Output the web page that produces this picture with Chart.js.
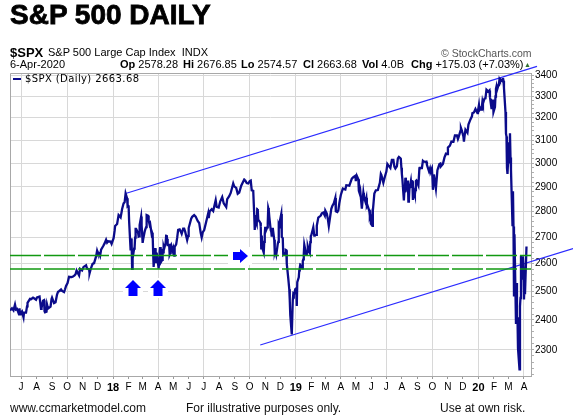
<!DOCTYPE html>
<html>
<head>
<meta charset="utf-8">
<script src="https://cdn.jsdelivr.net/npm/chart.js@4.4.1/dist/chart.umd.min.js"></script>
<style>
  body { margin: 0; background: #fff; }
  #wrap { position: relative; width: 573px; height: 418px; font-family: "Liberation Sans", Arial, sans-serif; color: #000; overflow: hidden; }
  #c { position: absolute; left: 0; top: 0; }
  .t { position: absolute; white-space: nowrap; line-height: 1; }
  .b { font-weight: bold; }
</style>
</head>
<body>
<div id="wrap">
  <canvas id="c" width="573" height="418"></canvas>
  <div class="t b" style="left:10px;top:1px;font-size:28px;-webkit-text-stroke:0.8px #000;">S&amp;P 500 DAILY</div>
  <div class="t b" style="left:10px;top:46px;font-size:13px;">$SPX</div>
  <div class="t" style="left:48px;top:47px;font-size:11px;">S&amp;P 500 Large Cap Index&nbsp; INDX</div>
  <div class="t" style="left:441px;top:48px;font-size:10.5px;color:#555;">&copy; StockCharts.com</div>
  <div class="t" style="left:10px;top:59px;font-size:11px;">6-Apr-2020</div>
  <div class="t" style="left:120px;top:59px;font-size:11px;"><span class="b">Op</span> 2578.28</div>
  <div class="t" style="left:183px;top:59px;font-size:11px;"><span class="b">Hi</span> 2676.85</div>
  <div class="t" style="left:241px;top:59px;font-size:11px;"><span class="b">Lo</span> 2574.57</div>
  <div class="t" style="left:303px;top:59px;font-size:11px;"><span class="b">Cl</span> 2663.68</div>
  <div class="t" style="left:362px;top:59px;font-size:11px;"><span class="b">Vol</span> 4.0B</div>
  <div class="t" style="left:411px;top:59px;font-size:11px;"><span class="b">Chg</span> +175.03 (+7.03%)</div>
  <div class="t" style="left:524px;top:61px;font-size:7px;color:#2f6f2f;">&#9650;</div>
  <div class="t" style="left:13px;top:78px;width:8px;height:2px;background:#0b0b8a;"></div>
  <div class="t" style="left:25px;top:74px;font-size:10px;letter-spacing:0.4px;font-family:'DejaVu Sans',Verdana,sans-serif;">$SPX (Daily) 2663.68</div>
  <div class="t" style="left:10px;top:402px;font-size:12px;color:#111;">www.ccmarketmodel.com</div>
  <div class="t" style="left:186px;top:402px;font-size:12px;color:#111;">For illustrative purposes only.</div>
  <div class="t" style="left:440px;top:402px;font-size:12px;color:#111;">Use at own risk.</div>
</div>
<script>
// S&P 500 closes (not every trading day)
const spxDates = [
  '2017-06-09','2017-06-13','2017-06-16','2017-06-19','2017-06-21','2017-06-23','2017-06-27','2017-06-28','2017-06-29','2017-06-30',
  '2017-07-03','2017-07-06','2017-07-07','2017-07-11','2017-07-13','2017-07-14','2017-07-19','2017-07-21','2017-07-25','2017-07-27','2017-07-31',
  '2017-08-02','2017-08-07','2017-08-10','2017-08-11','2017-08-14','2017-08-16','2017-08-17','2017-08-18','2017-08-21','2017-08-22','2017-08-24','2017-08-29','2017-08-31',
  '2017-09-01','2017-09-05','2017-09-08','2017-09-11','2017-09-13','2017-09-15','2017-09-19','2017-09-21','2017-09-25','2017-09-27','2017-09-29',
  '2017-10-02','2017-10-05','2017-10-10','2017-10-13','2017-10-16','2017-10-18','2017-10-20','2017-10-23','2017-10-25','2017-10-27','2017-10-31',
  '2017-11-03','2017-11-08','2017-11-10','2017-11-14','2017-11-15','2017-11-17','2017-11-21','2017-11-24','2017-11-28','2017-11-30',
  '2017-12-01','2017-12-04','2017-12-06','2017-12-08','2017-12-12','2017-12-15','2017-12-18','2017-12-20','2017-12-22','2017-12-27','2017-12-29',
  '2018-01-02','2018-01-04','2018-01-05','2018-01-09','2018-01-12','2018-01-16','2018-01-18','2018-01-19','2018-01-22','2018-01-24','2018-01-26','2018-01-29','2018-01-30','2018-01-31',
  '2018-02-01','2018-02-02','2018-02-05','2018-02-06','2018-02-07','2018-02-08','2018-02-09','2018-02-12','2018-02-13','2018-02-14','2018-02-15','2018-02-16','2018-02-20','2018-02-21','2018-02-22','2018-02-23','2018-02-26','2018-02-27','2018-02-28',
  '2018-03-01','2018-03-02','2018-03-05','2018-03-06','2018-03-08','2018-03-09','2018-03-12','2018-03-13','2018-03-15','2018-03-16','2018-03-19','2018-03-20','2018-03-21','2018-03-22','2018-03-23','2018-03-26','2018-03-27','2018-03-28','2018-03-29',
  '2018-04-02','2018-04-03','2018-04-04','2018-04-05','2018-04-06','2018-04-09','2018-04-10','2018-04-11','2018-04-12','2018-04-13','2018-04-16','2018-04-17','2018-04-18','2018-04-19','2018-04-20','2018-04-23','2018-04-24','2018-04-25','2018-04-26','2018-04-27','2018-04-30',
  '2018-05-01','2018-05-02','2018-05-03','2018-05-04','2018-05-07','2018-05-09','2018-05-11','2018-05-14','2018-05-16','2018-05-18','2018-05-21','2018-05-23','2018-05-25','2018-05-29','2018-05-31',
  '2018-06-01','2018-06-06','2018-06-08','2018-06-12','2018-06-15','2018-06-19','2018-06-22','2018-06-25','2018-06-27','2018-06-29',
  '2018-07-02','2018-07-06','2018-07-10','2018-07-11','2018-07-13','2018-07-17','2018-07-20','2018-07-25','2018-07-27','2018-07-31',
  '2018-08-03','2018-08-07','2018-08-10','2018-08-15','2018-08-17','2018-08-21','2018-08-24','2018-08-29','2018-08-31',
  '2018-09-04','2018-09-07','2018-09-10','2018-09-14','2018-09-20','2018-09-21','2018-09-25','2018-09-28',
  '2018-10-01','2018-10-03','2018-10-05','2018-10-08','2018-10-10','2018-10-11','2018-10-12','2018-10-15','2018-10-16','2018-10-17','2018-10-18','2018-10-22','2018-10-23','2018-10-24','2018-10-25','2018-10-26','2018-10-29','2018-10-30','2018-10-31',
  '2018-11-01','2018-11-02','2018-11-05','2018-11-06','2018-11-07','2018-11-08','2018-11-09','2018-11-12','2018-11-13','2018-11-14','2018-11-15','2018-11-16','2018-11-19','2018-11-20','2018-11-21','2018-11-23','2018-11-26','2018-11-27','2018-11-28','2018-11-29','2018-11-30',
  '2018-12-03','2018-12-04','2018-12-06','2018-12-07','2018-12-10','2018-12-11','2018-12-12','2018-12-13','2018-12-14','2018-12-17','2018-12-18','2018-12-19','2018-12-20','2018-12-21','2018-12-24','2018-12-26','2018-12-27','2018-12-28','2018-12-31',
  '2019-01-02','2019-01-03','2019-01-04','2019-01-07','2019-01-08','2019-01-09','2019-01-10','2019-01-11','2019-01-14','2019-01-15','2019-01-16','2019-01-17','2019-01-18','2019-01-22','2019-01-23','2019-01-24','2019-01-25','2019-01-28','2019-01-29','2019-01-30','2019-01-31',
  '2019-02-01','2019-02-05','2019-02-07','2019-02-08','2019-02-11','2019-02-12','2019-02-15','2019-02-20','2019-02-22','2019-02-25','2019-02-28',
  '2019-03-01','2019-03-04','2019-03-06','2019-03-08','2019-03-11','2019-03-13','2019-03-15','2019-03-18','2019-03-21','2019-03-22','2019-03-25','2019-03-27','2019-03-29',
  '2019-04-01','2019-04-05','2019-04-10','2019-04-12','2019-04-18','2019-04-23','2019-04-26','2019-04-30',
  '2019-05-01','2019-05-03','2019-05-06','2019-05-07','2019-05-09','2019-05-10','2019-05-13','2019-05-14','2019-05-16','2019-05-17','2019-05-20','2019-05-22','2019-05-23','2019-05-24','2019-05-28','2019-05-29','2019-05-30','2019-05-31',
  '2019-06-03','2019-06-04','2019-06-05','2019-06-07','2019-06-10','2019-06-14','2019-06-18','2019-06-20','2019-06-21','2019-06-25','2019-06-28',
  '2019-07-01','2019-07-03','2019-07-05','2019-07-09','2019-07-12','2019-07-15','2019-07-17','2019-07-19','2019-07-22','2019-07-24','2019-07-26','2019-07-29','2019-07-30','2019-07-31',
  '2019-08-01','2019-08-02','2019-08-05','2019-08-06','2019-08-07','2019-08-08','2019-08-09','2019-08-12','2019-08-13','2019-08-14','2019-08-15','2019-08-16','2019-08-19','2019-08-20','2019-08-21','2019-08-22','2019-08-23','2019-08-26','2019-08-27','2019-08-28','2019-08-29','2019-08-30',
  '2019-09-03','2019-09-05','2019-09-06','2019-09-10','2019-09-12','2019-09-13','2019-09-17','2019-09-19','2019-09-20','2019-09-24','2019-09-26','2019-09-27','2019-09-30',
  '2019-10-01','2019-10-02','2019-10-03','2019-10-04','2019-10-08','2019-10-09','2019-10-11','2019-10-15','2019-10-17','2019-10-18','2019-10-22','2019-10-25','2019-10-28','2019-10-31',
  '2019-11-01','2019-11-05','2019-11-08','2019-11-12','2019-11-15','2019-11-19','2019-11-21','2019-11-22','2019-11-26','2019-11-27','2019-11-29',
  '2019-12-02','2019-12-03','2019-12-04','2019-12-06','2019-12-10','2019-12-12','2019-12-13','2019-12-16','2019-12-19','2019-12-20','2019-12-23','2019-12-26','2019-12-27','2019-12-30','2019-12-31',
  '2020-01-02','2020-01-03','2020-01-06','2020-01-07','2020-01-08','2020-01-09','2020-01-10','2020-01-13','2020-01-15','2020-01-17','2020-01-21','2020-01-22','2020-01-23','2020-01-24','2020-01-27','2020-01-28','2020-01-29','2020-01-30','2020-01-31',
  '2020-02-03','2020-02-04','2020-02-05','2020-02-06','2020-02-07','2020-02-10','2020-02-11','2020-02-12','2020-02-13','2020-02-14','2020-02-18','2020-02-19','2020-02-20','2020-02-21','2020-02-24','2020-02-25','2020-02-26','2020-02-27','2020-02-28',
  '2020-03-02','2020-03-03','2020-03-04','2020-03-05','2020-03-06','2020-03-09','2020-03-10','2020-03-11','2020-03-12','2020-03-13','2020-03-16','2020-03-17','2020-03-18','2020-03-19','2020-03-20','2020-03-23','2020-03-24','2020-03-25','2020-03-26','2020-03-27','2020-03-30','2020-03-31',
  '2020-04-01','2020-04-02','2020-04-03','2020-04-06'
];
const spxClose = [
  2432,2440,2433,2453,2436,2438,2419,2440,2419,2423,
  2429,2409,2425,2425,2447,2459,2473,2472,2477,2475,2470,
  2478,2481,2438,2441,2466,2468,2430,2426,2428,2453,2439,2446,2472,
  2477,2458,2461,2488,2498,2500,2506,2501,2497,2507,2519,
  2529,2552,2551,2553,2557,2561,2575,2564,2557,2581,2575,
  2588,2594,2582,2579,2565,2579,2599,2602,2627,2648,
  2642,2639,2629,2652,2665,2676,2690,2679,2684,2683,2674,
  2696,2724,2743,2751,2786,2777,2798,2810,2833,2837,2873,2853,2822,2824,
  2822,2762,2649,2695,2681,2581,2620,2656,2662,2698,2732,2732,2716,2702,2703,2747,2780,2745,2714,
  2678,2691,2721,2728,2739,2786,2783,2765,2748,2752,2712,2717,2711,2643,2588,2658,2612,2606,2641,
  2582,2614,2645,2662,2604,2614,2656,2642,2663,2656,2678,2706,2708,2693,2670,2670,2634,2639,2666,2670,2648,
  2655,2636,2630,2663,2672,2697,2728,2730,2722,2713,2733,2733,2721,2689,2705,
  2735,2772,2779,2786,2780,2763,2755,2717,2699,2718,
  2727,2760,2793,2774,2801,2809,2802,2846,2819,2816,
  2840,2858,2833,2818,2850,2862,2875,2914,2902,
  2896,2872,2877,2905,2931,2930,2916,2914,
  2924,2926,2886,2884,2786,2728,2767,2750,2810,2809,2768,2756,2741,2657,2706,2659,2641,2682,2712,
  2740,2723,2738,2755,2814,2806,2781,2726,2722,2702,2730,2736,2690,2642,2649,2633,2674,2682,2744,2738,2760,
  2790,2701,2696,2633,2638,2636,2651,2650,2600,2546,2546,2507,2467,2417,2351,2468,2489,2486,2507,
  2510,2448,2532,2550,2575,2585,2597,2596,2583,2610,2616,2636,2671,2633,2639,2643,2665,2644,2640,2681,2704,
  2707,2738,2706,2708,2709,2744,2776,2784,2793,2796,2784,
  2804,2792,2771,2743,2784,2811,2822,2833,2855,2801,2798,2805,2834,
  2867,2893,2889,2907,2905,2934,2940,2946,
  2924,2946,2932,2884,2871,2881,2812,2834,2876,2860,2840,2856,2822,2826,2802,2783,2789,2752,
  2744,2804,2826,2873,2886,2887,2917,2954,2950,2917,2942,
  2964,2996,2990,2979,3014,3014,2985,2977,2986,3020,3026,3021,3014,2980,
  2953,2932,2845,2882,2884,2938,2919,2883,2926,2840,2848,2889,2924,2900,2924,2923,2847,2878,2869,2887,2924,2926,
  2906,2977,2979,2979,3009,3007,3005,3006,2992,2966,2977,2961,2977,
  2941,2888,2910,2952,2893,2919,2970,2996,2998,2986,2996,3023,3040,3038,
  3067,3075,3093,3092,3120,3120,3104,3110,3140,3154,3141,
  3114,3093,3113,3146,3132,3169,3169,3192,3206,3221,3224,3240,3240,3221,3231,
  3258,3235,3246,3237,3253,3275,3265,3288,3289,3330,3321,3321,3326,3295,3244,3276,3273,3284,3226,
  3249,3298,3334,3345,3328,3352,3358,3379,3374,3380,3370,3386,3373,3338,3226,3128,3116,2979,2954,
  3090,3003,3130,3024,2972,2747,2882,2741,2481,2711,2386,2529,2398,2409,2305,2237,2447,2476,2630,2541,2627,2585,
  2471,2527,2489,2664
];

// channel lines (two points each) and horizontal support levels
const upperDates = ['2018-01-26', '2020-04-27'];
const upperValues = [2873, 3442];
const lowerDates = ['2018-10-22', '2020-07-08'];
const lowerValues = [2316, 2656];
const supportLevels = [2630, 2580];

// blue arrow annotations
const upArrowDates = ['2018-02-09', '2018-04-01'];
const upArrowValues = [2541, 2541];
const rightArrowDates = ['2018-09-27'];
const rightArrowValues = [2630];

// axes
const xStart = '2017-06-09';
const xEnd = '2020-04-15';
const monthLabels = ['J','A','S','O','N','D','18','F','M','A','M','J','J','A','S','O','N','D','19','F','M','A','M','J','J','A','S','O','N','D','20','F','M','A'];
const yLabels = [2300, 2400, 2500, 2600, 2700, 2800, 2900, 3000, 3100, 3200, 3300, 3400];
const yMin = 2216, yMax = 3410;

const FONT = '"Liberation Sans", Arial, sans-serif';

function dayNum(s) {
  const p = s.split('-');
  return Date.UTC(+p[0], +p[1] - 1, +p[2]) / 86400000;
}

// month ticks from July 2017
const monthTicks = monthLabels.map((_, i) => Date.UTC(2017, 6 + i, 1) / 86400000);
// minor ticks every 20 points on the price axis
const yTicks = [];
for (let v = 2220; v <= yMax; v += 20) yTicks.push(v);

const x0 = dayNum(xStart), x1 = dayNum(xEnd);

const spxPoints = spxDates.map((d, i) => ({ x: dayNum(d), y: spxClose[i] }));
const toPts = (dates, vals) => dates.map((d, i) => ({ x: dayNum(d), y: vals[i] }));

const frame = {
  id: 'frame',
  beforeDatasetsDraw(chart) {
    const a = chart.chartArea, ctx = chart.ctx;
    ctx.save();
    ctx.strokeStyle = '#a8a8a8';
    ctx.lineWidth = 1;
    ctx.beginPath();
    ctx.moveTo(a.left + 0.5, a.bottom);
    ctx.lineTo(a.left + 0.5, a.top + 0.5);
    ctx.lineTo(a.right, a.top + 0.5);
    ctx.stroke();
    ctx.restore();
  }
};

const arrows = {
  id: 'arrows',
  afterDatasetsDraw(chart) {
    const ctx = chart.ctx, xs = chart.scales.x, ys = chart.scales.y;
    ctx.save();
    upArrowDates.forEach((d, i) => {
      const cx = Math.round(xs.getPixelForValue(dayNum(d)));
      const ty = Math.round(ys.getPixelForValue(upArrowValues[i]));
      ctx.fillStyle = '#fff';
      ctx.fillRect(cx - 10, ty - 2, 20, 20);
      ctx.fillStyle = '#0000ff';
      ctx.beginPath();
      ctx.moveTo(cx, ty);
      ctx.lineTo(cx + 8, ty + 8);
      ctx.lineTo(cx + 4.5, ty + 8);
      ctx.lineTo(cx + 4.5, ty + 16);
      ctx.lineTo(cx - 4.5, ty + 16);
      ctx.lineTo(cx - 4.5, ty + 8);
      ctx.lineTo(cx - 8, ty + 8);
      ctx.closePath();
      ctx.fill();
    });
    rightArrowDates.forEach((d, i) => {
      const tx = Math.round(xs.getPixelForValue(dayNum(d)));
      const cy = Math.round(ys.getPixelForValue(rightArrowValues[i]));
      ctx.fillStyle = '#fff';
      ctx.fillRect(tx - 20, cy - 9, 24, 18);
      ctx.fillStyle = '#0000ff';
      ctx.beginPath();
      ctx.moveTo(tx, cy);
      ctx.lineTo(tx - 8, cy - 7);
      ctx.lineTo(tx - 8, cy - 4);
      ctx.lineTo(tx - 15, cy - 4);
      ctx.lineTo(tx - 15, cy + 4);
      ctx.lineTo(tx - 8, cy + 4);
      ctx.lineTo(tx - 8, cy + 7);
      ctx.closePath();
      ctx.fill();
    });
    ctx.restore();
  }
};

const datasets = [];
supportLevels.forEach(v => {
  datasets.push({
    data: [{ x: x0, y: v }, { x: x1, y: v }],
    borderColor: '#119911',
    borderWidth: 1.5,
    borderDash: [31, 3],
    pointRadius: 0
  });
});
datasets.push({
  data: spxPoints,
  borderColor: '#0b0b8a',
  borderWidth: 2.3,
  pointRadius: 0,
  tension: 0
});
datasets.push({
  data: toPts(upperDates, upperValues),
  borderColor: '#2b2bff',
  borderWidth: 1.2,
  pointRadius: 0,
  clip: false
});
datasets.push({
  data: toPts(lowerDates, lowerValues),
  borderColor: '#2b2bff',
  borderWidth: 1.2,
  pointRadius: 0,
  clip: false
});

new Chart(document.getElementById('c'), {
  type: 'line',
  data: { datasets: datasets },
  options: {
    responsive: false,
    animation: false,
    events: [],
    layout: { padding: { left: 10, top: 73, right: 0, bottom: 22 } },
    plugins: { legend: { display: false }, tooltip: { enabled: false } },
    scales: {
      x: {
        type: 'linear',
        min: x0,
        max: x1,
        afterBuildTicks: axis => { axis.ticks = monthTicks.map(v => ({ value: v })); },
        afterFit: axis => { axis.height = 20; },
        grid: {
          color: ctx => (ctx.index % 3 === 0 ? '#d8d8d8' : 'rgba(0,0,0,0)'),
          tickColor: '#999',
          tickLength: 3
        },
        border: { color: '#a8a8a8' },
        ticks: {
          autoSkip: false,
          maxRotation: 0,
          padding: 2,
          color: '#000',
          font: ctx => {
            const isYear = /\d/.test(monthLabels[ctx.index] || '');
            return { family: FONT, size: isYear ? 11 : 10, weight: isYear ? 'bold' : 'normal' };
          },
          callback: (v, i) => monthLabels[i]
        }
      },
      y: {
        type: 'logarithmic',
        position: 'right',
        min: yMin,
        max: yMax,
        afterBuildTicks: axis => { axis.ticks = yTicks.map(v => ({ value: v })); },
        afterFit: axis => { axis.width = 42; },
        grid: {
          color: ctx => (ctx.tick && yLabels.includes(ctx.tick.value) ? '#d8d8d8' : 'rgba(0,0,0,0)'),
          tickColor: '#b0b0b0',
          tickLength: 3
        },
        border: { color: '#a8a8a8' },
        ticks: {
          autoSkip: false,
          padding: 1,
          color: '#000',
          font: { family: FONT, size: 10 },
          callback: v => (yLabels.includes(v) ? String(v) : '')
        }
      }
    }
  },
  plugins: [frame, arrows]
});
</script>
</body>
</html>
